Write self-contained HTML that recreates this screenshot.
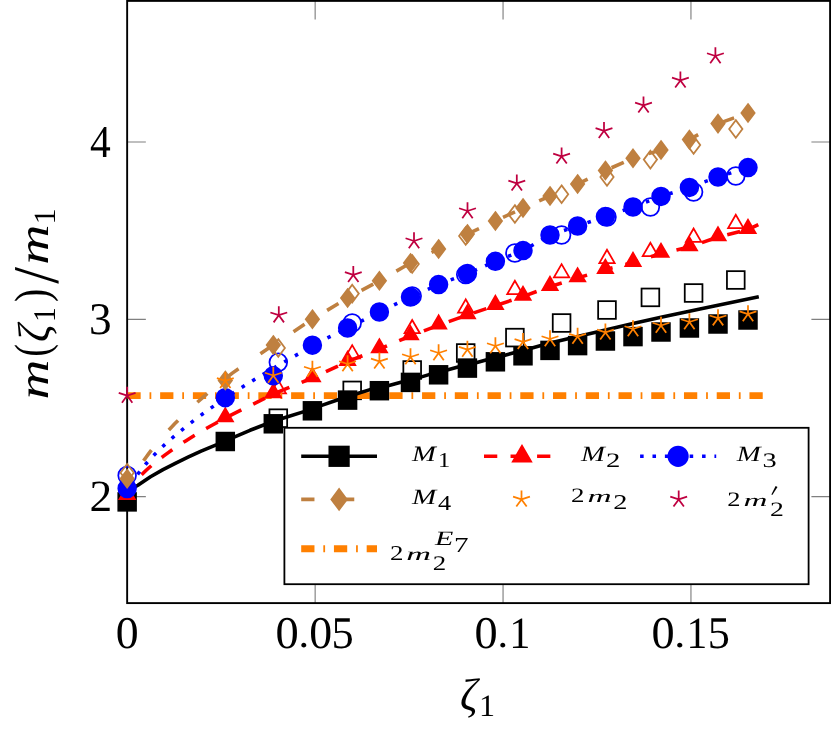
<!DOCTYPE html><html><head><meta charset="utf-8"><style>html,body{margin:0;padding:0;background:#fff}svg{display:block}text{font-family:"Liberation Serif",serif;fill:#000}svg{will-change:transform;transform:translateZ(0)}text{text-rendering:geometricPrecision}</style></head><body>
<svg width="831" height="732" viewBox="0 0 831 732">
<rect width="831" height="732" fill="#fff"/>
<path d="M315.15 603.1V584.4M315.15 0.9V19.6M503.05 603.1V584.4M503.05 0.9V19.6M690.95 603.1V584.4M690.95 0.9V19.6M127.15 142H145.85M830.1 142H811.4M127.15 319.3H145.85M830.1 319.3H811.4M127.15 496.6H145.85M830.1 496.6H811.4" stroke="#808080" stroke-width="1.15" fill="none"/>
<clipPath id="c"><rect x="127.15" y="0.9" width="702.95" height="602.2"/></clipPath>
<rect x="127.15" y="0.9" width="702.95" height="602.2" fill="none" stroke="#000" stroke-width="1.9"/>
<g>
<rect x="269.45" y="409.35" width="17.7" height="17.7" fill="none" stroke="#000" stroke-width="1.77"/>
<rect x="343.35" y="381.55" width="17.7" height="17.7" fill="none" stroke="#000" stroke-width="1.77"/>
<rect x="403.35" y="361.15" width="17.7" height="17.7" fill="none" stroke="#000" stroke-width="1.77"/>
<rect x="456.85" y="344.15" width="17.7" height="17.7" fill="none" stroke="#000" stroke-width="1.77"/>
<rect x="506.05" y="328.75" width="17.7" height="17.7" fill="none" stroke="#000" stroke-width="1.77"/>
<rect x="552.75" y="314.15" width="17.7" height="17.7" fill="none" stroke="#000" stroke-width="1.77"/>
<rect x="598.15" y="301.15" width="17.7" height="17.7" fill="none" stroke="#000" stroke-width="1.77"/>
<rect x="641.55" y="288.55" width="17.7" height="17.7" fill="none" stroke="#000" stroke-width="1.77"/>
<rect x="684.75" y="284.15" width="17.7" height="17.7" fill="none" stroke="#000" stroke-width="1.77"/>
<rect x="726.95" y="271.15" width="17.7" height="17.7" fill="none" stroke="#000" stroke-width="1.77"/>
<polygon points="278.3,380.15 270.64,393.43 285.96,393.43" fill="none" stroke="#f00" stroke-width="1.77"/>
<polygon points="352.2,345.15 344.54,358.43 359.86,358.43" fill="none" stroke="#f00" stroke-width="1.77"/>
<polygon points="412.2,319.95 404.54,333.23 419.86,333.23" fill="none" stroke="#f00" stroke-width="1.77"/>
<polygon points="465.7,299.35 458.04,312.62 473.36,312.62" fill="none" stroke="#f00" stroke-width="1.77"/>
<polygon points="514.9,280.75 507.24,294.03 522.56,294.03" fill="none" stroke="#f00" stroke-width="1.77"/>
<polygon points="561.6,264.15 553.94,277.43 569.26,277.43" fill="none" stroke="#f00" stroke-width="1.77"/>
<polygon points="607,249.75 599.34,263.03 614.66,263.03" fill="none" stroke="#f00" stroke-width="1.77"/>
<polygon points="650.4,242.75 642.74,256.02 658.06,256.02" fill="none" stroke="#f00" stroke-width="1.77"/>
<polygon points="693.6,228.55 685.94,241.83 701.26,241.83" fill="none" stroke="#f00" stroke-width="1.77"/>
<polygon points="735.8,214.75 728.14,228.03 743.46,228.03" fill="none" stroke="#f00" stroke-width="1.77"/>
<circle cx="127.15" cy="475.5" r="8.85" fill="none" stroke="#00f" stroke-width="1.77"/>
<circle cx="278.3" cy="362.3" r="8.85" fill="none" stroke="#00f" stroke-width="1.77"/>
<circle cx="352.2" cy="323" r="8.85" fill="none" stroke="#00f" stroke-width="1.77"/>
<circle cx="412.2" cy="296" r="8.85" fill="none" stroke="#00f" stroke-width="1.77"/>
<circle cx="465.7" cy="274.6" r="8.85" fill="none" stroke="#00f" stroke-width="1.77"/>
<circle cx="514.9" cy="253" r="8.85" fill="none" stroke="#00f" stroke-width="1.77"/>
<circle cx="561.6" cy="235" r="8.85" fill="none" stroke="#00f" stroke-width="1.77"/>
<circle cx="607" cy="217" r="8.85" fill="none" stroke="#00f" stroke-width="1.77"/>
<circle cx="650.4" cy="207" r="8.85" fill="none" stroke="#00f" stroke-width="1.77"/>
<circle cx="693.6" cy="192" r="8.85" fill="none" stroke="#00f" stroke-width="1.77"/>
<circle cx="735.8" cy="176" r="8.85" fill="none" stroke="#00f" stroke-width="1.77"/>
<polygon points="127.15,463.95 133.79,472.8 127.15,481.65 120.51,472.8" fill="none" stroke="#bf8040" stroke-width="1.77"/>
<polygon points="278.3,339.15 284.94,348 278.3,356.85 271.66,348" fill="none" stroke="#bf8040" stroke-width="1.77"/>
<polygon points="352.2,284.75 358.84,293.6 352.2,302.45 345.56,293.6" fill="none" stroke="#bf8040" stroke-width="1.77"/>
<polygon points="412.2,255.15 418.84,264 412.2,272.85 405.56,264" fill="none" stroke="#bf8040" stroke-width="1.77"/>
<polygon points="465.7,227.15 472.34,236 465.7,244.85 459.06,236" fill="none" stroke="#bf8040" stroke-width="1.77"/>
<polygon points="514.9,205.15 521.54,214 514.9,222.85 508.26,214" fill="none" stroke="#bf8040" stroke-width="1.77"/>
<polygon points="561.6,185.35 568.24,194.2 561.6,203.05 554.96,194.2" fill="none" stroke="#bf8040" stroke-width="1.77"/>
<polygon points="607,168.15 613.64,177 607,185.85 600.36,177" fill="none" stroke="#bf8040" stroke-width="1.77"/>
<polygon points="650.4,150.75 657.04,159.6 650.4,168.45 643.76,159.6" fill="none" stroke="#bf8040" stroke-width="1.77"/>
<polygon points="693.6,136.15 700.24,145 693.6,153.85 686.96,145" fill="none" stroke="#bf8040" stroke-width="1.77"/>
<polygon points="735.8,120.15 742.44,129 735.8,137.85 729.16,129" fill="none" stroke="#bf8040" stroke-width="1.77"/>
<path d="M127.4 395.6H763" stroke="#ff8000" stroke-width="6.8" fill="none" stroke-dasharray="13.27 8.85 1.77 8.85" clip-path="url(#c)"/>
<path d="M127.15 492 L131 489.3 L137.9 485.3 L150.5 476.8 L163 469.6 L175.8 463.1 L188 457.2 L201.1 451.2 L216.2 444.9 L225.3 440.8 L250 430.3 L273.3 421.2 L286 417.2 L304 411.6 L321 405.6 L338 399.8 L356 394 L370 389.6 L389 385.6 L400 382.6 L419 377.6 L429 374.6 L448 369.8 L458 367 L477 362.6 L486 360 L505 355.2 L513 353 L532 348 L550 343 L577.6 336.6 L605.4 330 L633 323.6 L661 317.3 L700 309 L730 302.8 L758.8 296.8" stroke="#000" stroke-width="3.6" fill="none" stroke-linejoin="round" clip-path="url(#c)"/>
<path d="M127.15 496.6 L127.21 496.03 L127.4 495.15 L127.7 494.11 L128.13 492.95 L128.68 491.69 L129.36 490.34 L130.16 488.91 L131.08 487.41 L132.12 485.84 L133.28 484.22 L134.57 482.55 L135.98 480.82 L137.52 479.04 L139.17 477.21 L140.95 475.35 L142.85 473.44 L144.88 471.49 L147.03 469.5 L149.3 467.47 L151.69 465.41 L154.2 463.31 L156.84 461.18 L159.6 459.02 L162.48 456.83 L165.49 454.6 L168.62 452.35 L171.87 450.06 L175.24 447.75 L178.74 445.41 L182.36 443.05 L186.1 440.65 L189.97 438.23 L193.95 435.79 L198.06 433.32 L202.3 430.83 L206.65 428.31 L211.13 425.77 L215.73 423.2 L220.45 420.62 L225.3 418.01 L273.3 394 L312.4 378 L347.6 361.6 L379.4 349 L410.5 336 L438.6 325.2 L467.4 315 L495.4 305.6 L523 296.5 L550 286.6 L577.6 278 L605.4 269.6 L633 262.6 L661 253.5 L689.4 247 L718 237 L748 229.6 L758.3 224.6" stroke="#f00" stroke-width="3.6" fill="none" stroke-dasharray="13.27 13.27" clip-path="url(#c)"/>
<path d="M127.15 496.6 L127.26 495.55 L127.58 493.96 L128.12 492.06 L128.88 489.94 L129.85 487.63 L131.04 485.16 L132.44 482.55 L134.06 479.81 L135.9 476.96 L137.95 473.99 L140.22 470.93 L142.71 467.77 L145.41 464.52 L148.32 461.19 L151.46 457.78 L154.81 454.29 L158.37 450.73 L162.15 447.1 L166.15 443.4 L170.36 439.63 L174.79 435.8 L179.44 431.91 L184.3 427.96 L189.38 423.96 L194.67 419.89 L200.18 415.77 L205.9 411.6 L211.85 407.38 L218 403.11 L224.38 398.78 L230.97 394.41 L237.77 389.99 L244.8 385.53 L252.03 381.02 L259.49 376.46 L267.16 371.86 L275.04 367.22 L283.15 362.54 L291.47 357.82 L300 353.05 L312.4 345.2 L347.6 328 L379.4 312 L410.5 297 L438.6 284.6 L467.4 273.6 L495.4 261.3 L523 250.6 L550 235 L577.6 226 L605.4 216.6 L633 207 L661 196.4 L689.4 187.4 L718 177 L748 167.6" stroke="#00f" stroke-width="3.54" fill="none" stroke-dasharray="3.54 8.85" clip-path="url(#c)"/>
<path d="M127.15 496.6 L127.22 495.7 L127.41 494.33 L127.74 492.7 L128.2 490.88 L128.79 488.9 L129.51 486.78 L130.36 484.53 L131.34 482.18 L132.46 479.73 L133.7 477.19 L135.08 474.55 L136.59 471.84 L138.22 469.05 L139.99 466.19 L141.89 463.26 L143.93 460.27 L146.09 457.21 L148.38 454.09 L150.81 450.91 L153.36 447.68 L156.05 444.39 L158.87 441.05 L161.82 437.66 L164.9 434.22 L168.11 430.73 L171.45 427.19 L174.92 423.61 L178.53 419.98 L182.26 416.31 L186.13 412.6 L190.13 408.84 L194.25 405.05 L198.51 401.22 L202.9 397.34 L207.43 393.43 L212.08 389.48 L216.86 385.5 L221.78 381.47 L226.82 377.42 L232 373.33 L273.3 345 L312.4 319.2 L347.6 298 L379.4 280.8 L410.5 263 L438.6 249 L467.4 234 L495.4 221 L523 208 L550 196 L577.6 184 L605.4 170.5 L633 158.3 L661 150 L689.4 139.6 L718 123.6 L748 113" stroke="#bf8040" stroke-width="3.6" fill="none" stroke-dasharray="13.27 26.54" clip-path="url(#c)"/>
<rect x="118.3" y="493.05" width="17.7" height="17.7" fill="#000" stroke="#000" stroke-width="1.77"/>
<rect x="216.45" y="432.65" width="17.7" height="17.7" fill="#000" stroke="#000" stroke-width="1.77"/>
<rect x="264.45" y="414.95" width="17.7" height="17.7" fill="#000" stroke="#000" stroke-width="1.77"/>
<rect x="303.55" y="401.95" width="17.7" height="17.7" fill="#000" stroke="#000" stroke-width="1.77"/>
<rect x="338.75" y="391.25" width="17.7" height="17.7" fill="#000" stroke="#000" stroke-width="1.77"/>
<rect x="370.55" y="381.85" width="17.7" height="17.7" fill="#000" stroke="#000" stroke-width="1.77"/>
<rect x="401.65" y="373.55" width="17.7" height="17.7" fill="#000" stroke="#000" stroke-width="1.77"/>
<rect x="429.75" y="365.95" width="17.7" height="17.7" fill="#000" stroke="#000" stroke-width="1.77"/>
<rect x="458.55" y="359.25" width="17.7" height="17.7" fill="#000" stroke="#000" stroke-width="1.77"/>
<rect x="486.55" y="352.95" width="17.7" height="17.7" fill="#000" stroke="#000" stroke-width="1.77"/>
<rect x="514.15" y="346.95" width="17.7" height="17.7" fill="#000" stroke="#000" stroke-width="1.77"/>
<rect x="541.15" y="341.55" width="17.7" height="17.7" fill="#000" stroke="#000" stroke-width="1.77"/>
<rect x="568.75" y="336.75" width="17.7" height="17.7" fill="#000" stroke="#000" stroke-width="1.77"/>
<rect x="596.55" y="332.15" width="17.7" height="17.7" fill="#000" stroke="#000" stroke-width="1.77"/>
<rect x="624.15" y="327.75" width="17.7" height="17.7" fill="#000" stroke="#000" stroke-width="1.77"/>
<rect x="652.15" y="323.15" width="17.7" height="17.7" fill="#000" stroke="#000" stroke-width="1.77"/>
<rect x="680.55" y="319.15" width="17.7" height="17.7" fill="#000" stroke="#000" stroke-width="1.77"/>
<rect x="709.15" y="315.15" width="17.7" height="17.7" fill="#000" stroke="#000" stroke-width="1.77"/>
<rect x="739.15" y="311.15" width="17.7" height="17.7" fill="#000" stroke="#000" stroke-width="1.77"/>
<polygon points="127.15,485.85 119.49,499.12 134.81,499.12" fill="#f00" stroke="#f00" stroke-width="1.77"/>
<polygon points="225.3,408.15 217.64,421.43 232.96,421.43" fill="#f00" stroke="#f00" stroke-width="1.77"/>
<polygon points="273.3,384.15 265.64,397.43 280.96,397.43" fill="#f00" stroke="#f00" stroke-width="1.77"/>
<polygon points="312.4,368.15 304.74,381.43 320.06,381.43" fill="#f00" stroke="#f00" stroke-width="1.77"/>
<polygon points="347.6,351.75 339.94,365.03 355.26,365.03" fill="#f00" stroke="#f00" stroke-width="1.77"/>
<polygon points="379.4,339.15 371.74,352.43 387.06,352.43" fill="#f00" stroke="#f00" stroke-width="1.77"/>
<polygon points="410.5,326.15 402.84,339.43 418.16,339.43" fill="#f00" stroke="#f00" stroke-width="1.77"/>
<polygon points="438.6,315.35 430.94,328.62 446.26,328.62" fill="#f00" stroke="#f00" stroke-width="1.77"/>
<polygon points="467.4,305.15 459.74,318.43 475.06,318.43" fill="#f00" stroke="#f00" stroke-width="1.77"/>
<polygon points="495.4,295.75 487.74,309.03 503.06,309.03" fill="#f00" stroke="#f00" stroke-width="1.77"/>
<polygon points="523,286.65 515.34,299.93 530.66,299.93" fill="#f00" stroke="#f00" stroke-width="1.77"/>
<polygon points="550,276.75 542.34,290.03 557.66,290.03" fill="#f00" stroke="#f00" stroke-width="1.77"/>
<polygon points="577.6,268.15 569.94,281.43 585.26,281.43" fill="#f00" stroke="#f00" stroke-width="1.77"/>
<polygon points="605.4,259.75 597.74,273.03 613.06,273.03" fill="#f00" stroke="#f00" stroke-width="1.77"/>
<polygon points="633,252.75 625.34,266.03 640.66,266.03" fill="#f00" stroke="#f00" stroke-width="1.77"/>
<polygon points="661,243.65 653.34,256.93 668.66,256.93" fill="#f00" stroke="#f00" stroke-width="1.77"/>
<polygon points="689.4,237.15 681.74,250.43 697.06,250.43" fill="#f00" stroke="#f00" stroke-width="1.77"/>
<polygon points="718,227.15 710.34,240.43 725.66,240.43" fill="#f00" stroke="#f00" stroke-width="1.77"/>
<polygon points="748,219.75 740.34,233.03 755.66,233.03" fill="#f00" stroke="#f00" stroke-width="1.77"/>
<circle cx="127.15" cy="488.5" r="8.85" fill="#00f" stroke="#00f" stroke-width="1.77"/>
<circle cx="225.3" cy="397.7" r="8.85" fill="#00f" stroke="#00f" stroke-width="1.77"/>
<circle cx="273.3" cy="375.8" r="8.85" fill="#00f" stroke="#00f" stroke-width="1.77"/>
<circle cx="312.4" cy="345.2" r="8.85" fill="#00f" stroke="#00f" stroke-width="1.77"/>
<circle cx="347.6" cy="328" r="8.85" fill="#00f" stroke="#00f" stroke-width="1.77"/>
<circle cx="379.4" cy="312" r="8.85" fill="#00f" stroke="#00f" stroke-width="1.77"/>
<circle cx="410.5" cy="297" r="8.85" fill="#00f" stroke="#00f" stroke-width="1.77"/>
<circle cx="438.6" cy="284.6" r="8.85" fill="#00f" stroke="#00f" stroke-width="1.77"/>
<circle cx="467.4" cy="273.6" r="8.85" fill="#00f" stroke="#00f" stroke-width="1.77"/>
<circle cx="495.4" cy="261.3" r="8.85" fill="#00f" stroke="#00f" stroke-width="1.77"/>
<circle cx="523" cy="250.6" r="8.85" fill="#00f" stroke="#00f" stroke-width="1.77"/>
<circle cx="550" cy="235" r="8.85" fill="#00f" stroke="#00f" stroke-width="1.77"/>
<circle cx="577.6" cy="226" r="8.85" fill="#00f" stroke="#00f" stroke-width="1.77"/>
<circle cx="605.4" cy="216.6" r="8.85" fill="#00f" stroke="#00f" stroke-width="1.77"/>
<circle cx="633" cy="207" r="8.85" fill="#00f" stroke="#00f" stroke-width="1.77"/>
<circle cx="661" cy="196.4" r="8.85" fill="#00f" stroke="#00f" stroke-width="1.77"/>
<circle cx="689.4" cy="187.4" r="8.85" fill="#00f" stroke="#00f" stroke-width="1.77"/>
<circle cx="718" cy="177" r="8.85" fill="#00f" stroke="#00f" stroke-width="1.77"/>
<circle cx="748" cy="167.6" r="8.85" fill="#00f" stroke="#00f" stroke-width="1.77"/>
<polygon points="127.15,469.85 133.79,478.7 127.15,487.55 120.51,478.7" fill="#bf8040" stroke="#bf8040" stroke-width="1.77"/>
<polygon points="225.3,371.65 231.94,380.5 225.3,389.35 218.66,380.5" fill="#bf8040" stroke="#bf8040" stroke-width="1.77"/>
<polygon points="273.3,336.15 279.94,345 273.3,353.85 266.66,345" fill="#bf8040" stroke="#bf8040" stroke-width="1.77"/>
<polygon points="312.4,310.35 319.04,319.2 312.4,328.05 305.76,319.2" fill="#bf8040" stroke="#bf8040" stroke-width="1.77"/>
<polygon points="347.6,289.15 354.24,298 347.6,306.85 340.96,298" fill="#bf8040" stroke="#bf8040" stroke-width="1.77"/>
<polygon points="379.4,271.95 386.04,280.8 379.4,289.65 372.76,280.8" fill="#bf8040" stroke="#bf8040" stroke-width="1.77"/>
<polygon points="410.5,254.15 417.14,263 410.5,271.85 403.86,263" fill="#bf8040" stroke="#bf8040" stroke-width="1.77"/>
<polygon points="438.6,240.15 445.24,249 438.6,257.85 431.96,249" fill="#bf8040" stroke="#bf8040" stroke-width="1.77"/>
<polygon points="467.4,225.15 474.04,234 467.4,242.85 460.76,234" fill="#bf8040" stroke="#bf8040" stroke-width="1.77"/>
<polygon points="495.4,212.15 502.04,221 495.4,229.85 488.76,221" fill="#bf8040" stroke="#bf8040" stroke-width="1.77"/>
<polygon points="523,199.15 529.64,208 523,216.85 516.36,208" fill="#bf8040" stroke="#bf8040" stroke-width="1.77"/>
<polygon points="550,187.15 556.64,196 550,204.85 543.36,196" fill="#bf8040" stroke="#bf8040" stroke-width="1.77"/>
<polygon points="577.6,175.15 584.24,184 577.6,192.85 570.96,184" fill="#bf8040" stroke="#bf8040" stroke-width="1.77"/>
<polygon points="605.4,161.65 612.04,170.5 605.4,179.35 598.76,170.5" fill="#bf8040" stroke="#bf8040" stroke-width="1.77"/>
<polygon points="633,149.45 639.64,158.3 633,167.15 626.36,158.3" fill="#bf8040" stroke="#bf8040" stroke-width="1.77"/>
<polygon points="661,141.15 667.64,150 661,158.85 654.36,150" fill="#bf8040" stroke="#bf8040" stroke-width="1.77"/>
<polygon points="689.4,130.75 696.04,139.6 689.4,148.45 682.76,139.6" fill="#bf8040" stroke="#bf8040" stroke-width="1.77"/>
<polygon points="718,114.75 724.64,123.6 718,132.45 711.36,123.6" fill="#bf8040" stroke="#bf8040" stroke-width="1.77"/>
<polygon points="748,104.15 754.64,113 748,121.85 741.36,113" fill="#bf8040" stroke="#bf8040" stroke-width="1.77"/>
<path d="M225.3 380.9L225.3 372.05M225.3 380.9L216.88 378.17M225.3 380.9L220.1 388.06M225.3 380.9L230.5 388.06M225.3 380.9L233.72 378.17" fill="none" stroke="#ff8000" stroke-width="1.77"/>
<path d="M273.3 375.5L273.3 366.65M273.3 375.5L264.88 372.77M273.3 375.5L268.1 382.66M273.3 375.5L278.5 382.66M273.3 375.5L281.72 372.77" fill="none" stroke="#ff8000" stroke-width="1.77"/>
<path d="M312.4 369.5L312.4 360.65M312.4 369.5L303.98 366.77M312.4 369.5L307.2 376.66M312.4 369.5L317.6 376.66M312.4 369.5L320.82 366.77" fill="none" stroke="#ff8000" stroke-width="1.77"/>
<path d="M347.6 364L347.6 355.15M347.6 364L339.18 361.27M347.6 364L342.4 371.16M347.6 364L352.8 371.16M347.6 364L356.02 361.27" fill="none" stroke="#ff8000" stroke-width="1.77"/>
<path d="M379.4 361.4L379.4 352.55M379.4 361.4L370.98 358.67M379.4 361.4L374.2 368.56M379.4 361.4L384.6 368.56M379.4 361.4L387.82 358.67" fill="none" stroke="#ff8000" stroke-width="1.77"/>
<path d="M410.5 357L410.5 348.15M410.5 357L402.08 354.27M410.5 357L405.3 364.16M410.5 357L415.7 364.16M410.5 357L418.92 354.27" fill="none" stroke="#ff8000" stroke-width="1.77"/>
<path d="M438.6 353L438.6 344.15M438.6 353L430.18 350.27M438.6 353L433.4 360.16M438.6 353L443.8 360.16M438.6 353L447.02 350.27" fill="none" stroke="#ff8000" stroke-width="1.77"/>
<path d="M467.4 349.6L467.4 340.75M467.4 349.6L458.98 346.87M467.4 349.6L462.2 356.76M467.4 349.6L472.6 356.76M467.4 349.6L475.82 346.87" fill="none" stroke="#ff8000" stroke-width="1.77"/>
<path d="M495.4 346L495.4 337.15M495.4 346L486.98 343.27M495.4 346L490.2 353.16M495.4 346L500.6 353.16M495.4 346L503.82 343.27" fill="none" stroke="#ff8000" stroke-width="1.77"/>
<path d="M523 341.8L523 332.95M523 341.8L514.58 339.07M523 341.8L517.8 348.96M523 341.8L528.2 348.96M523 341.8L531.42 339.07" fill="none" stroke="#ff8000" stroke-width="1.77"/>
<path d="M550 339L550 330.15M550 339L541.58 336.27M550 339L544.8 346.16M550 339L555.2 346.16M550 339L558.42 336.27" fill="none" stroke="#ff8000" stroke-width="1.77"/>
<path d="M577.6 336.6L577.6 327.75M577.6 336.6L569.18 333.87M577.6 336.6L572.4 343.76M577.6 336.6L582.8 343.76M577.6 336.6L586.02 333.87" fill="none" stroke="#ff8000" stroke-width="1.77"/>
<path d="M605.4 332.4L605.4 323.55M605.4 332.4L596.98 329.67M605.4 332.4L600.2 339.56M605.4 332.4L610.6 339.56M605.4 332.4L613.82 329.67" fill="none" stroke="#ff8000" stroke-width="1.77"/>
<path d="M633 329L633 320.15M633 329L624.58 326.27M633 329L627.8 336.16M633 329L638.2 336.16M633 329L641.42 326.27" fill="none" stroke="#ff8000" stroke-width="1.77"/>
<path d="M661 325.5L661 316.65M661 325.5L652.58 322.77M661 325.5L655.8 332.66M661 325.5L666.2 332.66M661 325.5L669.42 322.77" fill="none" stroke="#ff8000" stroke-width="1.77"/>
<path d="M689.4 322L689.4 313.15M689.4 322L680.98 319.27M689.4 322L684.2 329.16M689.4 322L694.6 329.16M689.4 322L697.82 319.27" fill="none" stroke="#ff8000" stroke-width="1.77"/>
<path d="M718 318.2L718 309.35M718 318.2L709.58 315.47M718 318.2L712.8 325.36M718 318.2L723.2 325.36M718 318.2L726.42 315.47" fill="none" stroke="#ff8000" stroke-width="1.77"/>
<path d="M748 314.1L748 305.25M748 314.1L739.58 311.37M748 314.1L742.8 321.26M748 314.1L753.2 321.26M748 314.1L756.42 311.37" fill="none" stroke="#ff8000" stroke-width="1.77"/>
<path d="M127.15 395.6L127.15 386.75M127.15 395.6L118.73 392.87M127.15 395.6L121.95 402.76M127.15 395.6L132.35 402.76M127.15 395.6L135.57 392.87" fill="none" stroke="#bf0040" stroke-width="1.77"/>
<path d="M278.8 315.2L278.8 306.35M278.8 315.2L270.38 312.47M278.8 315.2L273.6 322.36M278.8 315.2L284 322.36M278.8 315.2L287.22 312.47" fill="none" stroke="#bf0040" stroke-width="1.77"/>
<path d="M353.3 274.9L353.3 266.05M353.3 274.9L344.88 272.17M353.3 274.9L348.1 282.06M353.3 274.9L358.5 282.06M353.3 274.9L361.72 272.17" fill="none" stroke="#bf0040" stroke-width="1.77"/>
<path d="M414 241L414 232.15M414 241L405.58 238.27M414 241L408.8 248.16M414 241L419.2 248.16M414 241L422.42 238.27" fill="none" stroke="#bf0040" stroke-width="1.77"/>
<path d="M467.5 211L467.5 202.15M467.5 211L459.08 208.27M467.5 211L462.3 218.16M467.5 211L472.7 218.16M467.5 211L475.92 208.27" fill="none" stroke="#bf0040" stroke-width="1.77"/>
<path d="M516.8 183.4L516.8 174.55M516.8 183.4L508.38 180.67M516.8 183.4L511.6 190.56M516.8 183.4L522 190.56M516.8 183.4L525.22 180.67" fill="none" stroke="#bf0040" stroke-width="1.77"/>
<path d="M561.6 156.4L561.6 147.55M561.6 156.4L553.18 153.67M561.6 156.4L556.4 163.56M561.6 156.4L566.8 163.56M561.6 156.4L570.02 153.67" fill="none" stroke="#bf0040" stroke-width="1.77"/>
<path d="M604 130.8L604 121.95M604 130.8L595.58 128.07M604 130.8L598.8 137.96M604 130.8L609.2 137.96M604 130.8L612.42 128.07" fill="none" stroke="#bf0040" stroke-width="1.77"/>
<path d="M643.5 105.4L643.5 96.55M643.5 105.4L635.08 102.67M643.5 105.4L638.3 112.56M643.5 105.4L648.7 112.56M643.5 105.4L651.92 102.67" fill="none" stroke="#bf0040" stroke-width="1.77"/>
<path d="M680.4 80.4L680.4 71.55M680.4 80.4L671.98 77.67M680.4 80.4L675.2 87.56M680.4 80.4L685.6 87.56M680.4 80.4L688.82 77.67" fill="none" stroke="#bf0040" stroke-width="1.77"/>
<path d="M715.4 56L715.4 47.15M715.4 56L706.98 53.27M715.4 56L710.2 63.16M715.4 56L720.6 63.16M715.4 56L723.82 53.27" fill="none" stroke="#bf0040" stroke-width="1.77"/>
</g>
<rect x="284.4" y="427.8" width="524.2" height="156.40000000000003" fill="#fff" stroke="#000" stroke-width="1.8"/>
<path d="M301.2 456.3H377" stroke="#000" stroke-width="3.6"/>
<rect x="330.25" y="447.45" width="17.7" height="17.7" fill="#000" stroke="#000" stroke-width="3.54"/>
<path d="M484 456.3H560" stroke="#f00" stroke-width="3.6" stroke-dasharray="13.27 13.27"/>
<polygon points="522,447.45 514.34,460.73 529.66,460.73" fill="#f00" stroke="#f00" stroke-width="3.54"/>
<path d="M640.1 456.3H716.2" stroke="#00f" stroke-width="3.54" stroke-dasharray="3.54 8.85"/>
<circle cx="678.1" cy="456.3" r="8.85" fill="#00f" stroke="#00f" stroke-width="3.54"/>
<path d="M301.2 499.4H377" stroke="#bf8040" stroke-width="3.6" stroke-dasharray="13.27 26.54"/>
<polygon points="339.1,490.55 345.74,499.4 339.1,508.25 332.46,499.4" fill="#bf8040" stroke="#bf8040" stroke-width="3.54"/>
<path d="M521.5 499.4L521.5 490.55M521.5 499.4L513.08 496.67M521.5 499.4L516.3 506.56M521.5 499.4L526.7 506.56M521.5 499.4L529.92 496.67" fill="none" stroke="#ff8000" stroke-width="1.77"/>
<path d="M678.7 499.4L678.7 490.55M678.7 499.4L670.28 496.67M678.7 499.4L673.5 506.56M678.7 499.4L683.9 506.56M678.7 499.4L687.12 496.67" fill="none" stroke="#bf0040" stroke-width="1.77"/>
<path d="M301.2 548.7H377" stroke="#ff8000" stroke-width="7" stroke-dasharray="13.27 8.85 1.77 8.85"/>
<text transform="matrix(0.2863 0 0 0.2199 412.04 460.70)" font-size="100" font-style="italic">M</text>
<text transform="matrix(0.2443 0 0 0.2121 437.95 467.40)" font-size="100">1</text>
<text transform="matrix(0.2874 0 0 0.2176 580.94 460.75)" font-size="100" font-style="italic">M</text>
<text transform="matrix(0.2869 0 0 0.2054 605.94 467.30)" font-size="100">2</text>
<text transform="matrix(0.2874 0 0 0.2176 736.74 460.75)" font-size="100" font-style="italic">M</text>
<text transform="matrix(0.2832 0 0 0.2069 762.44 467.40)" font-size="100">3</text>
<text transform="matrix(0.2908 0 0 0.2184 411.94 503.50)" font-size="100" font-style="italic">M</text>
<text transform="matrix(0.2625 0 0 0.2127 437.99 509.70)" font-size="100">4</text>
<text transform="matrix(0.2694 0 0 0.2039 571.02 502.30)" font-size="100">2</text>
<text transform="matrix(0.3338 0 0 0.1761 587.59 502.30)" font-size="100" font-style="italic">m</text>
<text transform="matrix(0.2844 0 0 0.2099 613.15 509.40)" font-size="100">2</text>
<text transform="matrix(0.2644 0 0 0.2054 727.24 506.00)" font-size="100">2</text>
<text transform="matrix(0.3307 0 0 0.1761 743.61 506.00)" font-size="100" font-style="italic">m</text>
<text transform="matrix(0.2769 0 0 0.2039 769.98 515.80)" font-size="100">2</text>
<text transform="matrix(0.2694 0 0 0.2114 390.02 559.60)" font-size="100">2</text>
<text transform="matrix(0.3431 0 0 0.1804 406.26 559.60)" font-size="100" font-style="italic">m</text>
<text transform="matrix(0.2694 0 0 0.2069 432.72 570.30)" font-size="100">2</text>
<text transform="matrix(0.3001 0 0 0.2031 434.95 545.20)" font-size="100" font-style="italic">E</text>
<text transform="matrix(0.2912 0 0 0.2138 453.98 552.20)" font-size="100">7</text>
<path d="M775.6 485.9L777.5 486.9L772.3 494.9L771.4 494.4Z" fill="#000"/>
<text transform="matrix(0.4577 0 0 0.4535 115.76 648.26)" font-size="100">0</text>
<text transform="matrix(0.4648 0 0 0.4535 275.53 648.26)" font-size="100">0</text>
<text transform="matrix(0.4231 0 0 0.4062 298.41 647.32)" font-size="100">.</text>
<text transform="matrix(0.4577 0 0 0.4535 309.36 648.26)" font-size="100">0</text>
<text transform="matrix(0.4444 0 0 0.4544 331.62 648.26)" font-size="100">5</text>
<text transform="matrix(0.4625 0 0 0.4535 474.44 648.26)" font-size="100">0</text>
<text transform="matrix(0.4231 0 0 0.4062 497.51 647.32)" font-size="100">.</text>
<text transform="matrix(0.4232 0 0 0.4453 509.28 647.70)" font-size="100">1</text>
<text transform="matrix(0.4625 0 0 0.4535 651.54 648.26)" font-size="100">0</text>
<text transform="matrix(0.4401 0 0 0.4062 674.20 647.32)" font-size="100">.</text>
<text transform="matrix(0.4147 0 0 0.4453 686.46 647.70)" font-size="100">1</text>
<text transform="matrix(0.4419 0 0 0.4544 707.73 648.26)" font-size="100">5</text>
<text transform="matrix(0.4152 0 0 0.4558 90.09 156.50)" font-size="100">4</text>
<text transform="matrix(0.4527 0 0 0.4525 89.03 334.36)" font-size="100">3</text>
<text transform="matrix(0.4540 0 0 0.4471 89.40 511.00)" font-size="100">2</text>
<text transform="matrix(0.4339 0 0 0.4529 459.90 709.82)" font-size="100" font-style="italic">ζ</text>
<text transform="matrix(0.3210 0 0 0.3105 478.88 715.50)" font-size="100">1</text>
<g transform="translate(0,400) rotate(-90)">
<text transform="matrix(0.5528 0 0 0.4245 0.60 48.30)" font-size="100" font-style="italic">m</text>
<text transform="matrix(0.3816 0 0 0.4853 43.32 48.37)" font-size="100">(</text>
<text transform="matrix(0.4385 0 0 0.4495 57.89 48.77)" font-size="100" font-style="italic">ζ</text>
<text transform="matrix(0.2954 0 0 0.3151 77.90 54.60)" font-size="100">1</text>
<text transform="matrix(0.4010 0 0 0.4842 97.91 48.49)" font-size="100">)</text>
<text transform="matrix(0.6011 0 0 0.6518 116.30 58.06)" font-size="100">/</text>
<text transform="matrix(0.5574 0 0 0.4245 135.19 48.40)" font-size="100" font-style="italic">m</text>
<text transform="matrix(0.3210 0 0 0.3090 175.38 54.60)" font-size="100">1</text>
</g>
</svg></body></html>
